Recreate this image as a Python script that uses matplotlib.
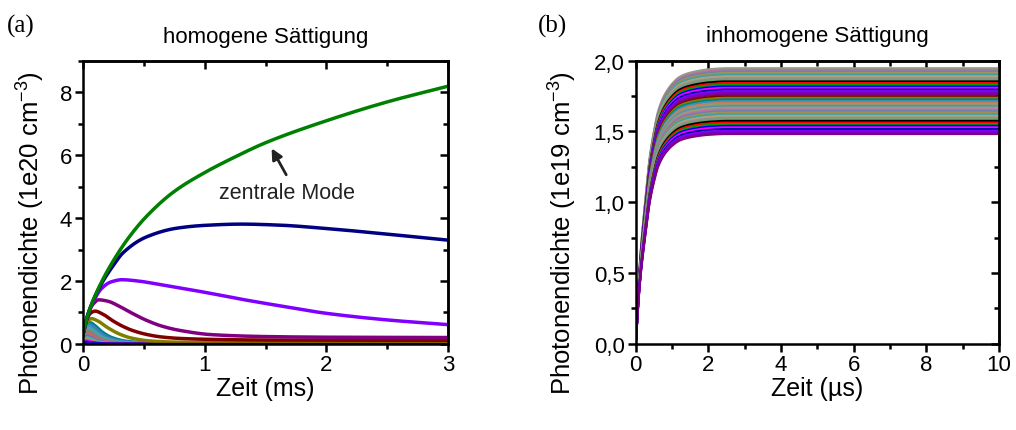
import numpy as np
import matplotlib
matplotlib.use("Agg")
import matplotlib.pyplot as plt
from matplotlib.ticker import MultipleLocator, FuncFormatter

plt.rcParams['font.family'] = ['Liberation Sans', 'DejaVu Sans']
plt.rcParams['mathtext.fontset'] = 'custom'
plt.rcParams['mathtext.rm'] = 'Liberation Sans'
plt.rcParams['mathtext.it'] = 'Liberation Sans'

# ---- (a) homogene Saettigung: main modes, time in ms ----
t_green = [0, 0.03, 0.08, 0.15, 0.25, 0.37, 0.52, 0.75, 1.0, 1.25, 1.5, 2.0, 2.5, 3.0]
y_green = [0.3, 0.8, 1.35, 1.95, 2.65, 3.35, 4.05, 4.85, 5.45, 5.95, 6.4, 7.1, 7.7, 8.2]

t_navy = [0, 0.03, 0.08, 0.15, 0.25, 0.33, 0.52, 0.77, 1.0, 1.3, 1.6, 2.0, 2.5, 3.0]
y_navy = [0.3, 0.8, 1.35, 1.9, 2.5, 2.9, 3.4, 3.68, 3.77, 3.81, 3.78, 3.67, 3.49, 3.3]

t_violet = [0, 0.03, 0.08, 0.15, 0.23, 0.32, 0.45, 0.64, 1.0, 1.3, 1.6, 2.0, 2.5, 3.0]
y_violet = [0.3, 0.8, 1.3, 1.75, 1.97, 2.04, 2.0, 1.88, 1.64, 1.42, 1.22, 0.97, 0.76, 0.61]

t_purple = [0, 0.03, 0.08, 0.13, 0.2, 0.31, 0.4, 0.52, 0.65, 0.79, 1.06, 1.5, 2.0, 3.0]
y_purple = [0.3, 0.8, 1.25, 1.4, 1.36, 1.17, 0.98, 0.75, 0.56, 0.43, 0.29, 0.23, 0.21, 0.2]

t_wine = [0, 0.03, 0.06, 0.1, 0.16, 0.25, 0.33, 0.41, 0.52, 0.64, 0.8, 1.06, 1.5, 3.0]
y_wine = [0.3, 0.75, 0.97, 1.04, 0.95, 0.72, 0.55, 0.42, 0.3, 0.22, 0.17, 0.14, 0.12, 0.11]

t_olive = [0, 0.03, 0.07, 0.12, 0.2, 0.3, 0.4, 0.55, 0.8, 1.2, 3.0]
y_olive = [0.3, 0.68, 0.8, 0.73, 0.52, 0.31, 0.18, 0.09, 0.05, 0.04, 0.04]

# weaker side modes: common pulse shape (time / peak time -> value / peak)
pulse_u = [0, 0.4, 1.0, 1.6, 2.5, 4.0, 6.0, 9.0, 15.0, 200.0]
pulse_v = [0.45, 0.85, 1.0, 0.88, 0.6, 0.3, 0.13, 0.05, 0.02, 0.02]
small_peaks = [0.68, 0.62, 0.56, 0.5, 0.44, 0.38, 0.32, 0.26, 0.2, 0.15, 0.1, 0.06]
small_tpeak = [0.06, 0.055, 0.05, 0.048, 0.045, 0.042, 0.04, 0.037, 0.035, 0.032, 0.03, 0.028]
small_colors = ['#008080', '#3a7fc0', '#3399aa', '#5599cc', '#60a060', '#aa6699',
                '#c07050', '#7070c0', '#40b0b0', '#a0a040', '#ff00ff', '#0000ff']

# ---- (b) inhomogene Saettigung, time in us ----
rise_t = [0, 0.05, 0.1, 0.16, 0.25, 0.39, 0.5, 0.62, 0.8, 1.03, 1.2, 1.4, 1.7, 2.0, 2.5, 10]
rise_v = [0, 0.14, 0.26, 0.37, 0.5, 0.68, 0.77, 0.845, 0.905, 0.948, 0.968, 0.98, 0.99, 0.996, 1.0, 1.0]
plateau = [1.946, 1.934, 1.923, 1.911, 1.900, 1.888, 1.876, 1.865, 1.853, 1.841,
           1.830, 1.818, 1.807, 1.795, 1.783, 1.772, 1.760, 1.748, 1.737, 1.725,
           1.714, 1.702, 1.690, 1.679, 1.667, 1.655, 1.644, 1.632, 1.621, 1.609,
           1.597, 1.586, 1.574, 1.562, 1.551, 1.539, 1.528, 1.516, 1.504, 1.493, 1.482]
palette = ['#000000', '#ff0000', '#00a000', '#0000ff', '#ff00ff', '#0000a0', '#8000ff',
           '#7a00c8', '#800080', '#800000', '#808000', '#008080', '#3a8fb7', '#c08060',
           '#8a9a78', '#6090a0', '#90a080', '#c070a0', '#7080b0', '#a09050', '#40a0a0',
           '#b0a080', '#909090', '#70a070']


def smooth(xs, ys, xn):
    # monotone cubic (Fritsch-Carlson) through the read points
    x = np.asarray(xs, float)
    y = np.asarray(ys, float)
    h = np.diff(x)
    d = np.diff(y) / h
    m = np.zeros_like(y)
    m[0], m[-1] = d[0], d[-1]
    for k in range(1, len(x) - 1):
        if d[k - 1] * d[k] > 0:
            w1 = 2 * h[k] + h[k - 1]
            w2 = h[k] + 2 * h[k - 1]
            m[k] = (w1 + w2) / (w1 / d[k - 1] + w2 / d[k])
    idx = np.clip(np.searchsorted(x, xn) - 1, 0, len(x) - 2)
    s = (xn - x[idx]) / h[idx]
    h00 = 2 * s**3 - 3 * s**2 + 1
    h10 = s**3 - 2 * s**2 + s
    h01 = -2 * s**3 + 3 * s**2
    h11 = s**3 - s**2
    return h00 * y[idx] + h10 * h[idx] * m[idx] + h01 * y[idx + 1] + h11 * h[idx] * m[idx + 1]


fig = plt.figure(figsize=(10.16, 4.31), dpi=100)
ax1 = fig.add_axes([0.0817, 0.2, 0.3593, 0.656])
ax2 = fig.add_axes([0.6257, 0.2, 0.3576, 0.657])


def pretty(ax, xmaj, xmin, ymaj, ymin):
    for s in ax.spines.values():
        s.set_linewidth(1.8)
    ax.xaxis.set_major_locator(MultipleLocator(xmaj))
    ax.xaxis.set_minor_locator(MultipleLocator(xmin))
    ax.yaxis.set_major_locator(MultipleLocator(ymaj))
    ax.yaxis.set_minor_locator(MultipleLocator(ymin))
    ax.tick_params(which='both', direction='out', width=1.8, labelsize=16)
    ax.tick_params(axis='x', pad=1)
    ax.tick_params(axis='y', pad=2)
    ax.tick_params(which='major', length=6)
    ax.tick_params(which='minor', length=3.5)
    top = ax.secondary_xaxis('top')
    right = ax.secondary_yaxis('right')
    top.xaxis.set_major_locator(MultipleLocator(xmaj))
    top.xaxis.set_minor_locator(MultipleLocator(xmin))
    right.yaxis.set_major_locator(MultipleLocator(ymaj))
    right.yaxis.set_minor_locator(MultipleLocator(ymin))
    for sec in (top, right):
        sec.tick_params(which='both', direction='in', width=1.8,
                        labelleft=False, labelright=False, labeltop=False)
        sec.tick_params(which='major', length=6)
        sec.tick_params(which='minor', length=3.5)
        sec.spines[:].set_linewidth(1.8)


# panel (a)
tt = np.linspace(0, 3, 900)
for i, (pk, tp) in enumerate(zip(small_peaks, small_tpeak)):
    ys = pk * smooth(pulse_u, pulse_v, np.clip(tt / tp, 0, 200))
    ax1.plot(tt, ys, color=small_colors[i], lw=2)
ax1.plot(tt, smooth(t_olive, y_olive, tt), color='#808000', lw=2.5)
ax1.plot(tt, smooth(t_wine, y_wine, tt), color='#800000', lw=2.5)
ax1.plot(tt, smooth(t_purple, y_purple, tt), color='#800080', lw=2.5)
ax1.plot(tt, smooth(t_violet, y_violet, tt), color='#8000ff', lw=2.5)
ax1.plot(tt, smooth(t_navy, y_navy, tt), color='#000080', lw=2.5)
ax1.plot(tt, smooth(t_green, y_green, tt), color='#008000', lw=2.5)
ax1.plot([0, 3], [0, 0], color='#800000', lw=2.5)

ax1.set_xlim(0, 3)
ax1.set_ylim(0, 9)
pretty(ax1, 1, 0.5, 2, 1)
ax1.set_xlabel('Zeit (ms)', fontsize=18, labelpad=1)
ax1.set_ylabel('Photonendichte (1e20 cm$^{-3}$)', fontsize=18.5)
ax1.yaxis.set_label_coords(-0.10, 0.396)
ax1.set_title('homogene Sättigung', fontsize=16, pad=14)
ax1.text(1.68, 4.83, 'zentrale Mode', fontsize=15.5, color='#222222',
         ha='center', va='center')
ax1.annotate('', xy=(1.55, 6.22), xytext=(1.67, 5.38),
             arrowprops=dict(arrowstyle='-|>', color='#222222', lw=2,
                             shrinkA=0, shrinkB=0, mutation_scale=16))

# panel (b)
tb = np.linspace(0, 10, 1500)
for i, lev in enumerate(plateau):
    col = palette[(i - 8) % len(palette)]
    ax2.plot(tb, lev * smooth(rise_t, rise_v, tb), color=col, lw=1.6)

ax2.set_xlim(0, 10)
ax2.set_ylim(0, 2.0)
pretty(ax2, 2, 1, 0.5, 0.25)
ax2.yaxis.set_major_formatter(FuncFormatter(lambda v, p: f'{v:.1f}'.replace('.', ',')))
ax2.set_xlabel('Zeit (µs)', fontsize=18, labelpad=1)
ax2.set_ylabel('Photonendichte (1e19 cm$^{-3}$)', fontsize=18.5)
ax2.yaxis.set_label_coords(-0.155, 0.396)
ax2.set_title('inhomogene Sättigung', fontsize=16, pad=14)

fig.text(0.007, 0.925, '(a)', fontsize=18, family='Liberation Serif')
fig.text(0.529, 0.925, '(b)', fontsize=18, family='Liberation Serif')

fig.savefig('out.png', dpi=100)
